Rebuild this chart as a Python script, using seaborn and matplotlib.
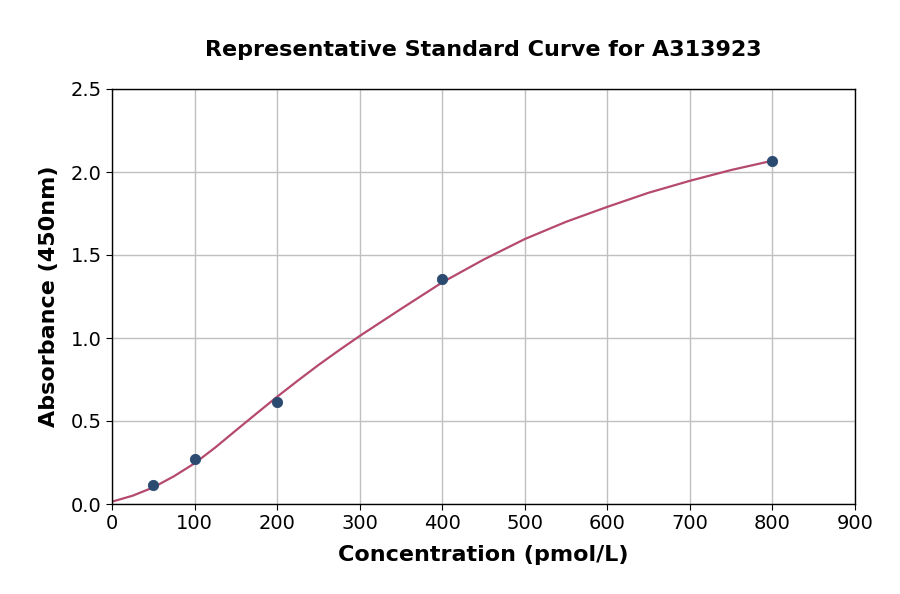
import matplotlib
matplotlib.use("Agg")
import matplotlib.pyplot as plt
import seaborn as sns
import pandas as pd

# measured standards
conc = [50, 100, 200, 400, 800]
absorb = [0.113, 0.271, 0.613, 1.353, 2.066]

# fitted curve
curve_x = [0, 25, 50, 75, 100, 125, 150, 175, 200, 225, 250, 275, 300, 350, 400,
           450, 500, 550, 600, 650, 700, 750, 800]
curve_y = [0.014, 0.05, 0.10, 0.167, 0.245, 0.34, 0.443, 0.545, 0.646, 0.743, 0.837,
           0.926, 1.012, 1.175, 1.335, 1.472, 1.596, 1.70, 1.79, 1.875, 1.947, 2.012, 2.068]

sns.set_style("whitegrid")
plt.rcParams['font.family'] = ['DejaVu Sans']
plt.rcParams['text.color'] = 'black'
plt.rcParams['axes.labelcolor'] = 'black'
plt.rcParams['xtick.color'] = 'black'
plt.rcParams['ytick.color'] = 'black'

fig = plt.figure(figsize=(9, 5.94), dpi=100)
ax = fig.add_axes([112 / 900, 1 - 504 / 594, 743 / 900, 415 / 594])

pts = pd.DataFrame({"x": conc, "y": absorb})
fit = pd.DataFrame({"x": curve_x, "y": curve_y})

sns.lineplot(data=fit, x="x", y="y", ax=ax, color="#b5496e", linewidth=1.6)
sns.scatterplot(data=pts, x="x", y="y", ax=ax, color="#2b4a6f", s=55,
                edgecolor="#2b4a6f", zorder=3)

ax.set_xlim(0, 900)
ax.set_ylim(0, 2.5)
ax.set_xticks(range(0, 901, 100))
ax.set_yticks([0, 0.5, 1.0, 1.5, 2.0, 2.5])
ax.set_yticklabels(["0.0", "0.5", "1.0", "1.5", "2.0", "2.5"])
ax.tick_params(labelsize=14, length=4, color="black", left=True, bottom=True)
ax.grid(True, color="#c0c0c0", linewidth=1)
for s in ax.spines.values():
    s.set_color("black")
    s.set_linewidth(1)

ax.set_xlabel("Concentration (pmol/L)", fontsize=16, fontweight="bold", labelpad=8)
ax.set_ylabel("Absorbance (450nm)", fontsize=16, fontweight="bold", labelpad=8)
ax.set_title("Representative Standard Curve for A313923", fontsize=16,
             fontweight="bold", pad=24)

fig.savefig("out.png", dpi=100)
